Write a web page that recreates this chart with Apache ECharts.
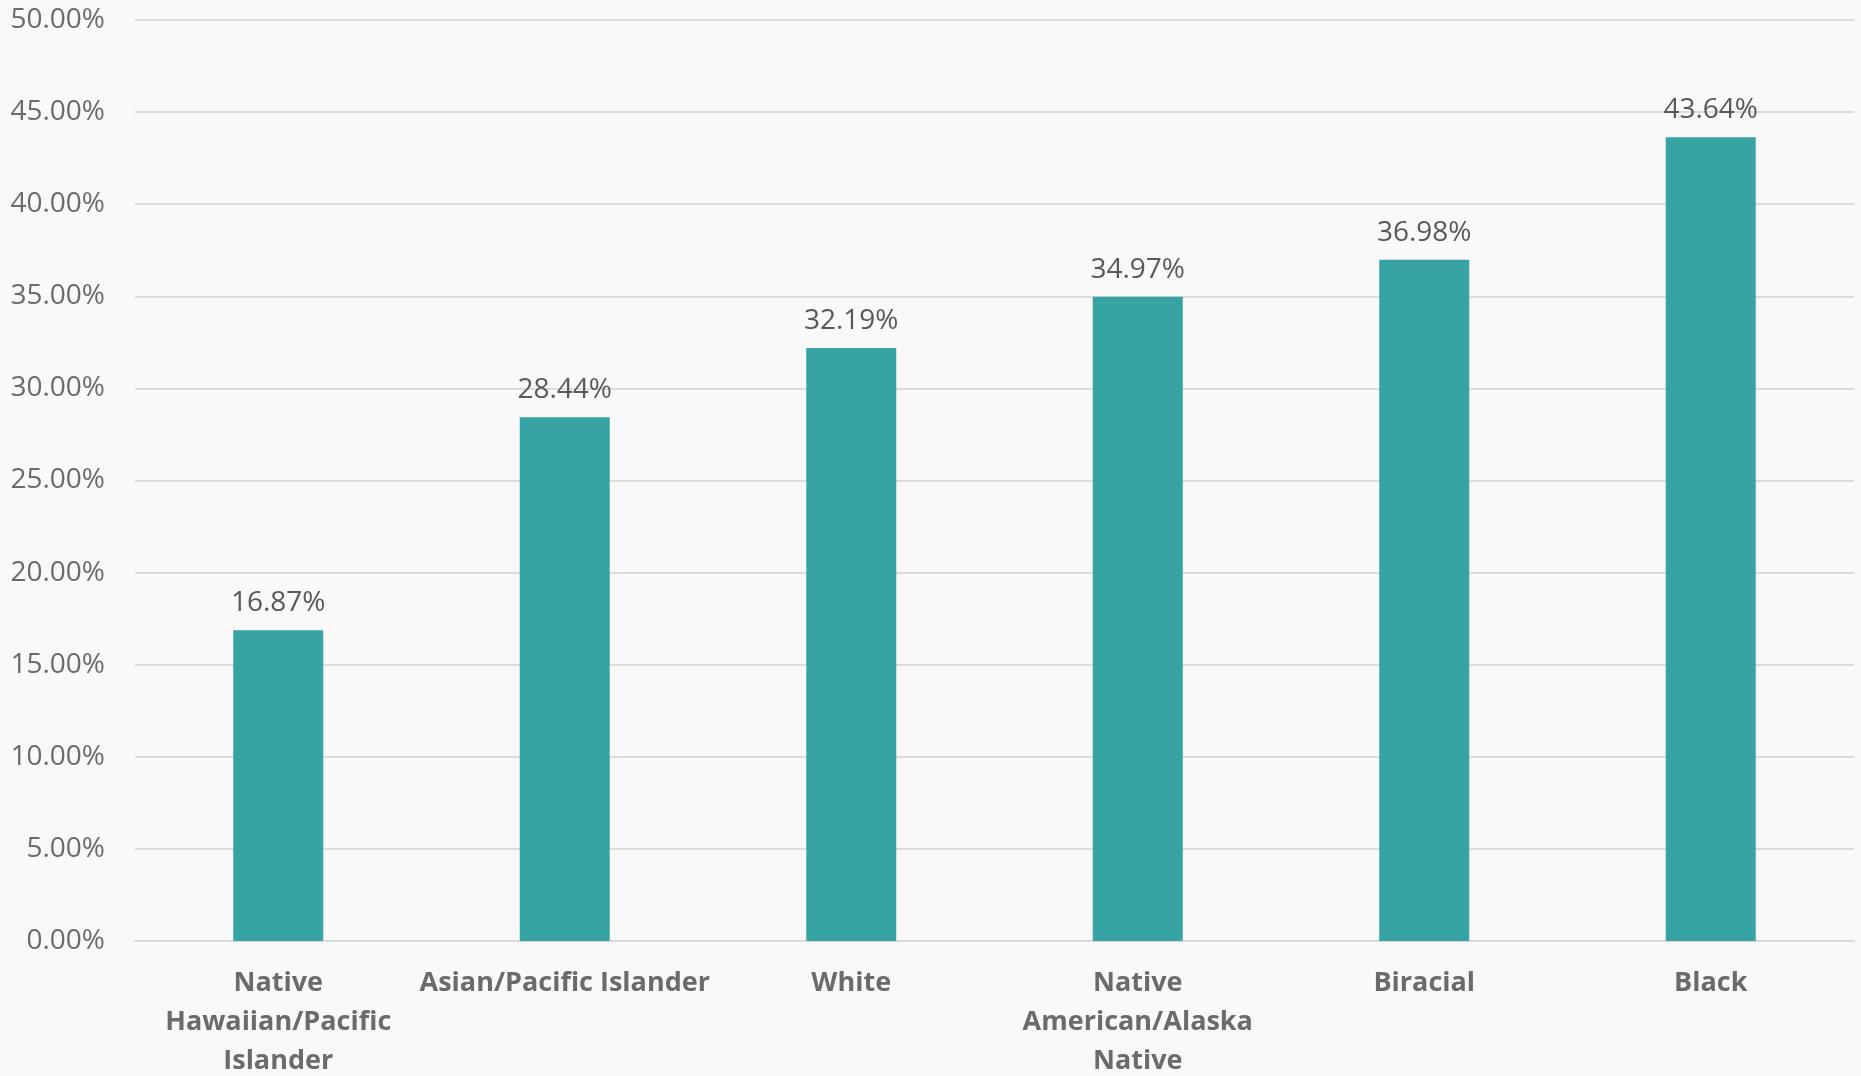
<!DOCTYPE html>
<html>
<head>
<meta charset="utf-8">
<script src="https://cdn.jsdelivr.net/npm/echarts@6/dist/echarts.min.js"></script>
<style>
    html, body { margin: 0; padding: 0; background: #f9f9f9; }
    #chart { width: 1861px; height: 1076px; }
</style>
</head>
<body>
<div id="chart"></div>
<script>
// data
const categories = [
    'Native Hawaiian/Pacific Islander',
    'Asian/Pacific Islander',
    'White',
    'Native American/Alaska Native',
    'Biracial',
    'Black'
]
// wrapped the way the reference wraps them
const tickLabels = [
    'Native\nHawaiian/Pacific\nIslander',
    'Asian/Pacific Islander',
    'White',
    'Native\nAmerican/Alaska\nNative',
    'Biracial',
    'Black'
]
const rates = [16.87, 28.44, 32.19, 34.97, 36.98, 43.64]

const chart = echarts.init(document.getElementById('chart'))

const options = {
    backgroundColor: '#f9f9f9',
    textStyle: { fontFamily: '"Open Sans", sans-serif' },
    // labels hang off the bottom edge, as in the original
    grid: { left: 135, right: 7, top: 20, bottom: 135, outerBoundsMode: 'none', containLabel: false },
    xAxis: {
        type: 'category',
        data: categories,
        axisLine: { lineStyle: { color: '#d9d9d9', width: 2 } },
        axisTick: { show: false },
        axisLabel: {
            interval: 0,
            margin: 23,
            color: '#6b6b6b',
            fontSize: 27,
            fontWeight: 'bold',
            lineHeight: 39,
            formatter: (v, i) => tickLabels[i]
        }
    },
    yAxis: {
        type: 'value',
        min: 0,
        max: 50,
        interval: 5,
        axisLine: { show: false },
        axisTick: { show: false },
        splitLine: { lineStyle: { color: '#dcdcdc', width: 2 } },
        axisLabel: {
            margin: 30,
            color: '#6b6b6b',
            fontSize: 28,
            formatter: v => v.toFixed(2) + '%'
        }
    },
    series: [{
        type: 'bar',
        data: rates,
        barWidth: 90,
        itemStyle: { color: '#37a3a3' },
        label: {
            show: true,
            position: 'top',
            distance: 13,
            color: '#595959',
            fontSize: 28,
            formatter: p => p.value.toFixed(2) + '%'
        }
    }]
}
chart.setOption(options)
</script>
</body>
</html>
